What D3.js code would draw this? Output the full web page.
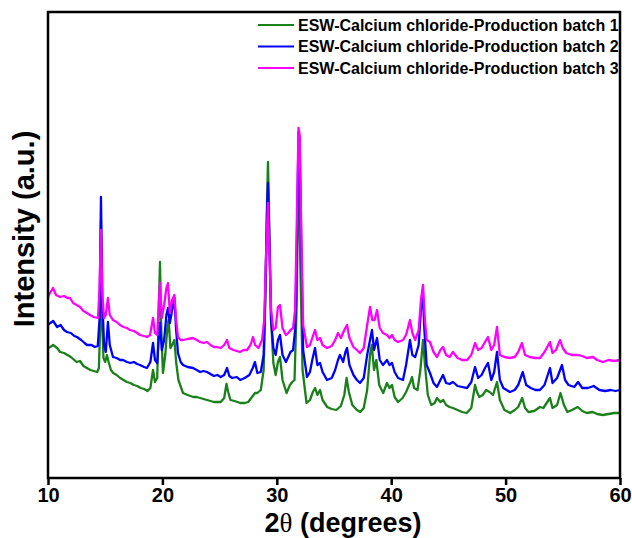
<!DOCTYPE html>
<html>
<head>
<meta charset="utf-8">
<script src="https://cdn.jsdelivr.net/npm/d3@7"></script>
<style>
  html, body { margin: 0; padding: 0; background: #fff; }
  svg { display: block; font-family: "Liberation Sans", Arial, sans-serif; }
</style>
</head>
<body>
<svg id="chart" width="632" height="538"></svg>
<script>
const seriesNames = [
  "ESW-Calcium chloride-Production batch 1",
  "ESW-Calcium chloride-Production batch 2",
  "ESW-Calcium chloride-Production batch 3"
];
const xTicks = [10, 20, 30, 40, 50, 60];

// [2θ (degrees), intensity (a.u.)]
const batch1 = [
[10.0,130],[10.2,131],[10.45,133],[10.8,130],[11.05,126],[11.4,125],[11.7,123],[12.0,121],[12.5,116],[12.8,117],
[13.1,112],[13.4,110],[13.7,108],[14.0,107],[14.3,106],[14.45,110],[14.55,148],[14.63,258],[14.72,158],[14.85,120],
[15.0,116],[15.15,123],[15.3,116],[15.5,108],[15.7,105],[16.0,103],[16.3,100],[16.6,98],[16.9,96],[17.2,95],
[17.5,93],[17.8,92],[18.1,90],[18.4,89],[18.7,87],[18.95,90],[19.18,108],[19.35,96],[19.55,100],[19.7,178],
[19.79,216],[19.9,148],[20.05,105],[20.25,123],[20.45,153],[20.55,158],[20.7,130],[20.85,133],[21.05,138],[21.2,116],
[21.4,98],[21.8,85],[22.2,83],[22.7,81],[23.0,81],[23.3,80],[23.6,79],[23.9,78],[24.2,77],[24.5,76],
[24.8,76],[25.1,76],[25.4,80],[25.6,94],[25.75,86],[25.95,78],[26.3,77],[26.8,75],[27.2,75],[27.5,76],
[27.9,82],[28.1,85],[28.3,85],[28.6,88],[28.85,108],[29.0,178],[29.15,278],[29.23,316],[29.35,248],[29.5,158],
[29.7,115],[29.9,103],[30.1,116],[30.28,121],[30.5,98],[30.85,85],[31.15,93],[31.35,96],[31.55,98],[31.75,178],
[31.9,328],[32.05,218],[32.25,108],[32.6,75],[32.9,78],[33.15,86],[33.35,90],[33.55,83],[33.78,88],[34.0,78],
[34.4,71],[34.8,69],[35.2,68],[35.6,72],[35.9,83],[36.1,100],[36.3,86],[36.6,73],[37.0,68],[37.3,66],
[37.6,70],[37.9,88],[38.15,123],[38.3,133],[38.5,108],[38.7,118],[38.95,93],[39.3,85],[39.63,95],[39.85,90],
[40.07,93],[40.3,81],[40.6,76],[41.0,80],[41.3,86],[41.64,95],[41.82,101],[42.0,90],[42.3,88],[42.55,108],
[42.78,138],[42.95,113],[43.2,83],[43.5,73],[43.8,75],[44.0,80],[44.3,76],[44.55,78],[44.8,73],[45.1,71],
[45.4,70],[45.8,68],[46.2,66],[46.6,65],[47.0,70],[47.33,93],[47.5,86],[47.7,81],[48.0,83],[48.3,88],
[48.6,86],[48.9,83],[49.25,96],[49.5,78],[49.9,68],[50.4,65],[50.8,68],[51.1,71],[51.45,80],[51.7,70],
[52.0,66],[52.5,67],[53.0,71],[53.3,70],[53.88,80],[54.1,70],[54.5,73],[54.8,85],[55.1,73],[55.4,66],
[55.8,68],[56.3,71],[56.7,67],[57.1,65],[57.6,66],[58.0,64],[58.5,63],[59.0,64],[59.5,65],[60.0,65]
];

const batch2 = [
[10.0,153],[10.2,155],[10.45,157],[10.8,151],[11.1,153],[11.4,148],[11.66,146],[12.0,145],[12.3,142],[12.53,141],
[12.9,138],[13.2,135],[13.41,133],[13.8,133],[14.1,131],[14.35,132],[14.5,158],[14.63,281],[14.75,178],[14.9,133],
[15.05,126],[15.24,156],[15.4,133],[15.68,121],[16.0,120],[16.3,118],[16.56,118],[16.9,116],[17.2,115],[17.5,116],
[17.8,114],[18.04,113],[18.4,111],[18.65,110],[18.95,116],[19.18,135],[19.35,118],[19.55,115],[19.7,143],[19.79,155],
[19.95,128],[20.15,138],[20.35,163],[20.49,170],[20.65,155],[20.85,168],[21.05,180],[21.2,148],[21.36,125],[21.6,116],
[21.8,113],[22.2,111],[22.67,110],[23.0,108],[23.3,106],[23.6,107],[23.9,106],[24.2,104],[24.5,102],[24.8,103],
[25.1,101],[25.4,103],[25.65,110],[25.85,102],[26.1,100],[26.5,101],[26.8,98],[27.2,100],[27.6,103],[27.9,110],
[28.09,116],[28.3,105],[28.6,106],[28.85,123],[29.0,188],[29.15,268],[29.23,295],[29.35,238],[29.5,158],[29.7,130],
[29.9,123],[30.1,138],[30.28,143],[30.5,123],[30.8,116],[31.0,121],[31.2,126],[31.42,128],[31.6,148],[31.75,228],
[31.9,346],[32.0,338],[32.15,228],[32.3,128],[32.64,101],[32.9,106],[33.1,118],[33.34,130],[33.55,113],[33.78,115],
[34.0,106],[34.39,98],[34.8,100],[35.1,108],[35.35,118],[35.52,123],[35.8,116],[36.0,126],[36.14,130],[36.35,113],
[36.7,103],[37.0,98],[37.27,95],[37.6,100],[37.9,123],[38.15,138],[38.32,148],[38.5,128],[38.76,140],[39.0,118],
[39.28,113],[39.63,118],[39.85,113],[40.07,115],[40.3,106],[40.6,100],[41.03,98],[41.3,113],[41.64,138],[41.85,123],
[42.1,121],[42.4,133],[42.6,168],[42.75,188],[42.9,148],[43.1,113],[43.39,105],[43.7,95],[44.0,91],[44.3,98],
[44.53,103],[44.8,95],[45.1,94],[45.4,96],[45.8,92],[46.2,91],[46.63,90],[47.0,96],[47.33,111],[47.6,100],
[47.9,103],[48.2,110],[48.46,115],[48.75,98],[49.0,106],[49.25,126],[49.5,98],[49.8,90],[50.38,86],[50.8,88],
[51.1,93],[51.5,106],[51.8,93],[52.2,90],[52.6,88],[53.0,88],[53.4,93],[53.88,110],[54.1,95],[54.5,100],
[54.93,113],[55.2,98],[55.5,93],[56.0,91],[56.33,96],[56.7,90],[57.2,90],[57.7,92],[58.2,88],[58.7,87],
[59.2,88],[59.6,87],[60.0,88]
];

const batch3 = [
[10.0,181],[10.17,185],[10.44,190],[10.7,183],[11.05,181],[11.4,182],[11.7,180],[11.92,180],[12.2,175],[12.5,173],
[12.8,171],[13.1,167],[13.41,165],[13.67,163],[14.0,161],[14.37,160],[14.5,188],[14.63,248],[14.75,183],[14.9,160],
[15.05,163],[15.24,180],[15.4,163],[15.68,158],[16.0,156],[16.29,153],[16.6,151],[16.9,150],[17.17,148],[17.5,147],
[17.8,145],[18.04,143],[18.4,142],[18.65,141],[18.92,143],[19.18,160],[19.35,145],[19.55,143],[19.7,178],[19.79,195],
[19.95,160],[20.15,173],[20.35,190],[20.49,195],[20.65,165],[20.85,178],[21.05,183],[21.2,158],[21.36,141],[21.6,138],
[21.8,138],[22.2,139],[22.67,140],[23.0,138],[23.3,136],[23.6,135],[23.9,136],[24.2,133],[24.5,131],[24.77,131],
[25.1,130],[25.4,133],[25.65,138],[25.85,130],[26.2,128],[26.5,127],[26.78,126],[27.1,128],[27.4,128],[27.7,133],
[27.92,141],[28.1,133],[28.4,130],[28.71,138],[28.9,158],[29.05,218],[29.23,275],[29.35,228],[29.5,168],[29.7,148],
[29.9,150],[30.1,171],[30.28,173],[30.5,150],[30.8,143],[31.0,145],[31.2,148],[31.42,150],[31.6,168],[31.75,258],
[31.9,350],[32.0,343],[32.15,238],[32.3,153],[32.64,131],[32.9,133],[33.1,140],[33.34,148],[33.55,138],[33.78,140],
[34.0,133],[34.39,130],[34.8,132],[35.1,138],[35.35,145],[35.6,140],[35.9,148],[36.14,153],[36.35,140],[36.7,131],
[37.0,128],[37.27,125],[37.6,130],[37.9,153],[38.15,171],[38.35,158],[38.55,158],[38.76,168],[39.0,150],[39.28,145],
[39.63,143],[39.85,140],[40.07,143],[40.3,138],[40.6,136],[41.03,138],[41.3,143],[41.64,158],[41.85,145],[42.1,138],
[42.4,148],[42.6,178],[42.78,193],[42.95,158],[43.1,138],[43.39,136],[43.7,126],[44.0,121],[44.3,128],[44.53,131],
[44.8,123],[45.1,121],[45.4,126],[45.8,120],[46.2,118],[46.63,118],[47.0,123],[47.33,135],[47.6,128],[47.9,130],
[48.2,136],[48.46,141],[48.75,128],[49.0,133],[49.25,151],[49.5,123],[49.9,121],[50.38,120],[50.8,121],[51.1,126],
[51.43,135],[51.7,123],[52.1,121],[52.6,120],[53.01,120],[53.4,126],[53.88,136],[54.1,125],[54.4,128],[54.76,138],
[55.0,130],[55.3,125],[55.8,123],[56.33,123],[56.7,122],[57.1,120],[57.64,121],[58.0,118],[58.5,116],[59.0,118],
[59.5,117],[60.0,118]
];

const seriesData = [batch1, batch2, batch3];
const colors = ["#1a801a", "#0000ff", "#ff00ff"];

const svg = d3.select("#chart");
const mLeft = 48, mRight = 620, mTop = 12, mBottom = 478;

const x = d3.scaleLinear().domain([10, 60]).range([mLeft, mRight]);
const y = d3.scaleLinear().domain([0, 466]).range([mBottom, mTop]);

const line = d3.line().x(d => x(d[0])).y(d => y(d[1]));

const plot = svg.append("g");
seriesData.forEach((s, i) => {
  plot.append("path")
    .datum(s)
    .attr("fill", "none")
    .attr("stroke", colors[i])
    .attr("stroke-width", 2.3)
    .attr("stroke-linejoin", "round")
    .attr("d", line);
});

// frame
svg.append("rect")
  .attr("x", mLeft).attr("y", mTop)
  .attr("width", mRight - mLeft).attr("height", mBottom - mTop)
  .attr("fill", "none").attr("stroke", "#000").attr("stroke-width", 2.5);

// x axis
const xAxis = d3.axisBottom(x).tickValues(xTicks).tickSize(7).tickPadding(3).tickFormat(d3.format("d"));
const gx = svg.append("g").attr("transform", `translate(0,${mBottom})`).call(xAxis);
gx.select(".domain").remove();
gx.selectAll(".tick line").attr("stroke", "#000").attr("stroke-width", 2.5);
gx.selectAll(".tick text")
  .attr("fill", "#000")
  .style("font-family", "'Liberation Sans', Arial, sans-serif")
  .style("font-size", "20px")
  .style("font-weight", "bold");

// axis titles
const xt = svg.append("text")
  .attr("x", 343).attr("y", 532)
  .attr("text-anchor", "middle")
  .style("font-size", "27px").style("font-weight", "bold");
xt.append("tspan").text("2");
xt.append("tspan").style("font-family", "'Liberation Serif', serif").style("font-weight", "normal").text("θ");
xt.append("tspan").text(" (degrees)");

svg.append("text")
  .attr("transform", "translate(34,229) rotate(-90)")
  .attr("text-anchor", "middle")
  .style("font-size", "29px").style("font-weight", "bold")
  .text("Intensity (a.u.)");

// legend
const lg = svg.append("g");
seriesNames.forEach((name, i) => {
  const yy = 25 + i * 21.5;
  lg.append("line").attr("x1", 258).attr("x2", 294).attr("y1", yy).attr("y2", yy)
    .attr("stroke", colors[i]).attr("stroke-width", 2);
  lg.append("text").attr("x", 298).attr("y", yy).attr("dy", "0.35em")
    .style("font-size", "16px").style("font-weight", "bold").text(name);
});
</script>
</body>
</html>
